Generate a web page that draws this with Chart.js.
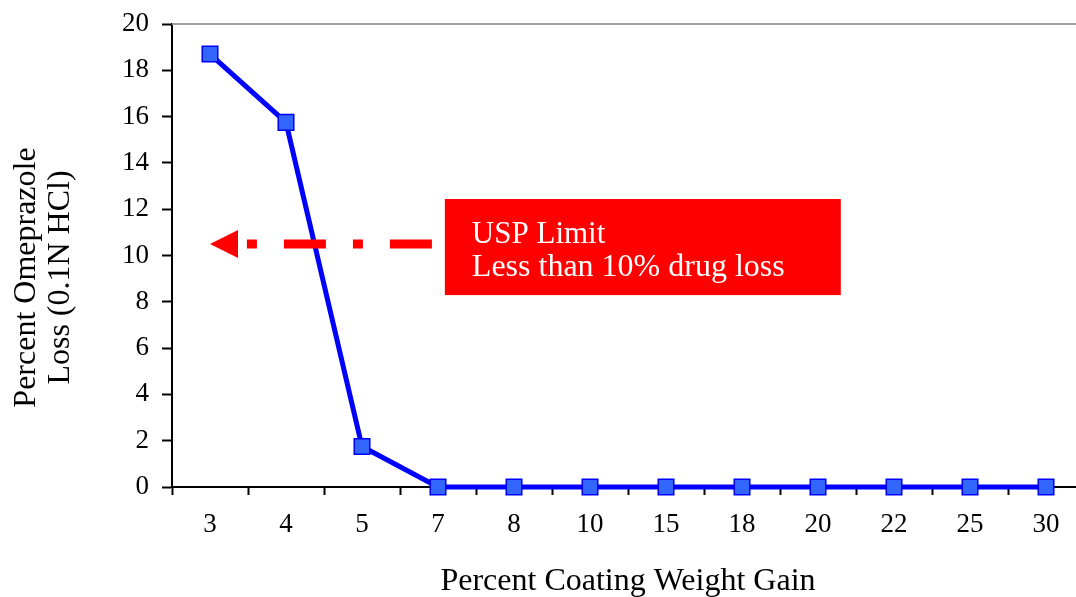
<!DOCTYPE html>
<html>
<head>
<meta charset="utf-8">
<script src="https://cdn.jsdelivr.net/npm/chart.js@4.4.1/dist/chart.umd.min.js"></script>
<style>
  html, body { margin: 0; padding: 0; background: #fff; overflow: hidden; }
  #wrap { width: 1100px; height: 597px; }
</style>
</head>
<body>
<div id="wrap"><canvas id="myChart" width="1100" height="597"></canvas></div>
<script>
const coatingGain = ['3', '4', '5', '7', '8', '10', '15', '18', '20', '22', '25', '30'];
const drugLoss = [18.7, 15.75, 1.75, 0, 0, 0, 0, 0, 0, 0, 0, 0];
const yTicks = [0, 2, 4, 6, 8, 10, 12, 14, 16, 18, 20];

const xTitle = 'Percent Coating Weight Gain';
const yTitle = ['Percent Omeprazole', 'Loss (0.1N HCl)'];
const noteLines = ['USP Limit', 'Less than 10% drug loss'];
const uspLimit = 10.5;       // arrow level
const arrowFrom = 2.92;      // category index (arrow tail)
const arrowTo = 0;           // category index (arrow tip)
const noteBoxX = [3.09, 8.3];
const noteBoxY = [12.44, 8.29];

const serif = '"Liberation Serif", "Times New Roman", serif';

// titles, top border and the USP note
const extras = {
  id: 'extras',
  afterDatasetsDraw(chart) {
    const { ctx, chartArea, scales } = chart;
    const x = scales.x, y = scales.y;
    ctx.save();

    // top frame line
    ctx.strokeStyle = '#a0a0a0';
    ctx.lineWidth = 2;
    ctx.beginPath();
    ctx.moveTo(chartArea.left, chartArea.top);
    ctx.lineTo(chartArea.right, chartArea.top);
    ctx.lineTo(chartArea.right, chartArea.bottom);
    ctx.stroke();

    // note box
    const bx1 = x.getPixelForValue(noteBoxX[0]);
    const bx2 = x.getPixelForValue(noteBoxX[1]);
    const by1 = y.getPixelForValue(noteBoxY[0]);
    const by2 = y.getPixelForValue(noteBoxY[1]);
    ctx.fillStyle = '#ff0000';
    ctx.fillRect(bx1, by1, bx2 - bx1, by2 - by1);
    ctx.fillStyle = '#ffffff';
    ctx.font = '31px ' + serif;
    ctx.textAlign = 'left';
    ctx.textBaseline = 'alphabetic';
    ctx.fillText(noteLines[0], bx1 + 27, by1 + 44);
    ctx.font = '32px ' + serif;
    ctx.fillText(noteLines[1], bx1 + 27, by1 + 77);

    // dash-dot arrow
    const ay = y.getPixelForValue(uspLimit);
    const ax1 = x.getPixelForValue(arrowFrom);
    const ax2 = x.getPixelForValue(arrowTo);
    ctx.strokeStyle = '#ff0000';
    ctx.lineWidth = 9;
    ctx.lineCap = 'butt';
    ctx.setLineDash([42, 27, 10, 27]);
    ctx.beginPath();
    ctx.moveTo(ax1, ay);
    ctx.lineTo(ax2 + 36, ay);
    ctx.stroke();
    ctx.setLineDash([]);
    ctx.fillStyle = '#ff0000';
    ctx.beginPath();
    ctx.moveTo(ax2, ay);
    ctx.lineTo(ax2 + 28, ay - 14);
    ctx.lineTo(ax2 + 28, ay + 14);
    ctx.closePath();
    ctx.fill();

    // axis titles
    ctx.fillStyle = '#000';
    ctx.font = '32px ' + serif;
    ctx.textAlign = 'center';
    ctx.textBaseline = 'middle';
    ctx.fillText(xTitle, (chartArea.left + chartArea.right) / 2, 582);

    ctx.translate(0, (chartArea.top + chartArea.bottom) / 2 + 22);
    ctx.rotate(-Math.PI / 2);
    ctx.fillText(yTitle[0], 0, 27);
    ctx.fillText(yTitle[1], 0, 61);
    ctx.restore();
  }
};

const ctx = document.getElementById('myChart');

new Chart(ctx, {
  type: 'line',
  data: {
    labels: coatingGain,
    datasets: [
      {
        label: 'Loss',
        data: drugLoss,
        borderColor: '#0000ff',
        borderWidth: 5,
        backgroundColor: '#3366ff',
        pointStyle: 'rect',
        pointRadius: 11,
        pointBorderWidth: 1.5,
        pointBorderColor: '#0000ff',
        pointBackgroundColor: '#3366ff',
        tension: 0,
        clip: false,
      },
    ],
  },
  options: {
    responsive: false,
    animation: false,
    layout: { padding: { top: 24, right: 16, left: 0, bottom: 0 } },
    scales: {
      x: {
        type: 'category',
        offset: true,
        grid: {
          offset: true,
          drawOnChartArea: false,
          tickLength: 8,
          tickColor: '#000',
          tickWidth: 2,
        },
        border: { color: '#000', width: 2 },
        ticks: {
          color: '#000',
          font: { family: serif, size: 27 },
          padding: 14,
          maxRotation: 0,
        },
        afterFit(scale) {
          scale.height = 110;
          scale.paddingLeft = 0;
          scale.paddingRight = 0;
        },
      },
      y: {
        min: 0,
        max: 20,
        afterBuildTicks(scale) {
          scale.ticks = yTicks.map((v) => ({ value: v }));
        },
        grid: {
          drawOnChartArea: false,
          tickLength: 10,
          tickColor: '#000',
          tickWidth: 2,
        },
        border: { color: '#000', width: 2 },
        ticks: {
          color: '#000',
          font: { family: serif, size: 27 },
          padding: 13,
        },
        afterFit(scale) {
          scale.width = 172;
          scale.paddingTop = 0;
          scale.paddingBottom = 0;
        },
      },
    },
    plugins: {
      legend: { display: false },
      tooltip: { enabled: false },
    },
  },
  plugins: [extras],
});
</script>
</body>
</html>
